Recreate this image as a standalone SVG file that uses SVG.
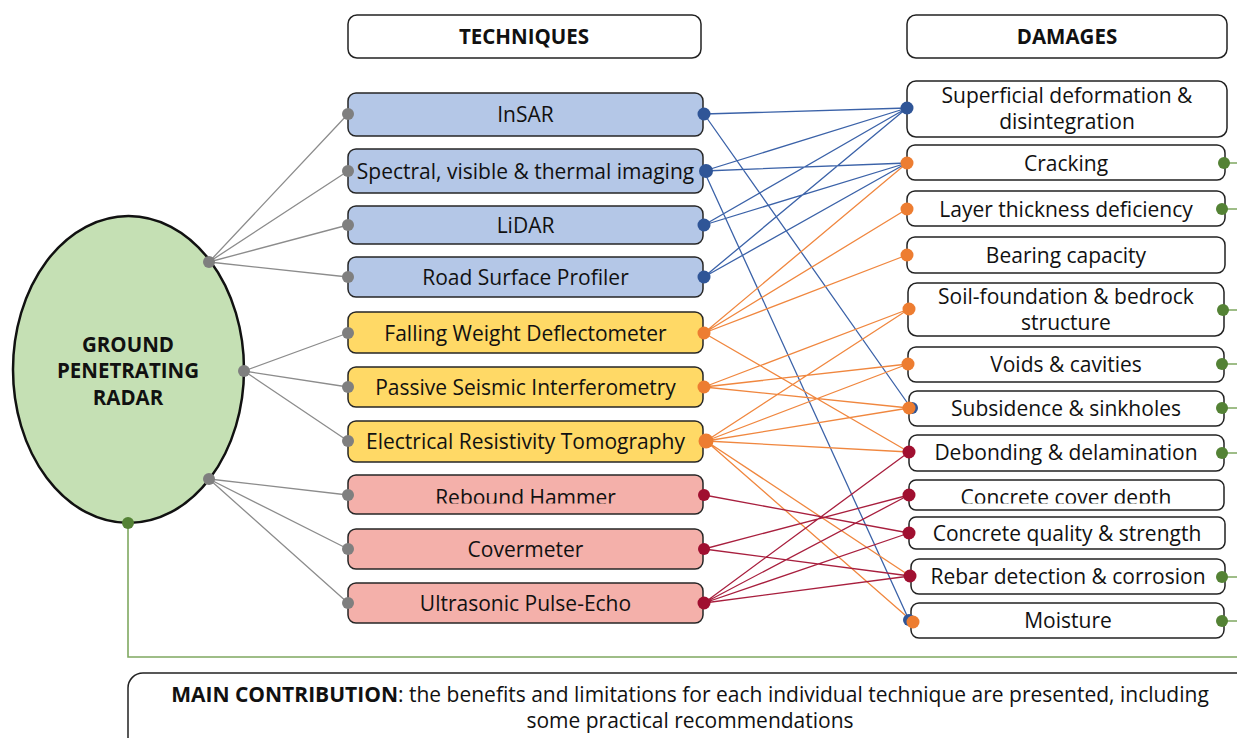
<svg xmlns="http://www.w3.org/2000/svg" width="1237" height="738" viewBox="0 0 1237 738">
  <style>
    text { font-family: "Open Sans", "Noto Sans", "Liberation Sans", sans-serif; fill: #111; }
    .hdr { font-size: 20.5px; font-weight: bold; text-anchor: middle; }
    .lbl { font-size: 21px; text-anchor: middle; }
    .gpr { font-size: 20.5px; font-weight: bold; text-anchor: middle; }
    .box { fill: #fff; stroke: #222; stroke-width: 1.5; }
    .tb { fill: #b4c7e7; stroke: #262626; stroke-width: 1.5; }
    .ty { fill: #ffd966; stroke: #262626; stroke-width: 1.5; }
    .tr { fill: #f4b0aa; stroke: #262626; stroke-width: 1.5; }
    .lg { stroke: #8c8c8c; stroke-width: 1.3; fill: none; }
    .lb { stroke: #3b62a8; stroke-width: 1.3; fill: none; }
    .lo { stroke: #f0873f; stroke-width: 1.3; fill: none; }
    .lr { stroke: #a81f3e; stroke-width: 1.3; fill: none; }
    .lgr { stroke: #7fa860; stroke-width: 1.6; fill: none; }
    .dg { fill: #7f7f7f; }
    .db { fill: #2f5597; }
    .do { fill: #ed7d31; }
    .dr { fill: #a00f30; }
    .dgr { fill: #548235; }
  </style>
  <defs>
    <clipPath id="clipRebound"><rect x="348" y="475" width="355" height="28.5"/></clipPath>
    <clipPath id="clipCover"><rect x="909" y="480" width="315" height="23.5"/></clipPath>
  </defs>

  <!-- connectors -->
  <g id="connectors">
    <!-- GPR to techniques -->
    <path class="lg" d="M209,262 L348,114 M209,262 L348,171 M209,262 L348,225 M209,262 L348,277"/>
    <path class="lg" d="M244,371 L348,333 M244,371 L348,387 M244,371 L348,441"/>
    <path class="lg" d="M209,479 L348,495 M209,479 L348,549 M209,479 L348,603"/>
    <!-- remote sensing techniques -->
    <path class="lb" d="M704,114 L907,108 M704,114 L911,408
                        M704,171 L907,108 M704,171 L907,163 M704,171 L909,620
                        M704,225 L907,108 M704,225 L907,163
                        M704,277 L907,108 M704,277 L907,163"/>
    <!-- geophysical techniques -->
    <path class="lo" d="M704,333 L907,163 M704,333 L907,209 M704,333 L907,255 M704,333 L909,452
                        M704,387 L909,309 M704,387 L908,364 M704,387 L909,408
                        M706,441 L909,309 M706,441 L908,364 M706,441 L909,408 M706,441 L909,452 M706,441 L910,576 M706,441 L913,622"/>
    <!-- concrete testing techniques -->
    <path class="lr" d="M704,495 L909,533
                        M704,549 L909,495 M704,549 L910,576
                        M704,603 L909,452 M704,603 L909,495 M704,603 L909,533 M704,603 L910,576"/>
    <!-- GPR to damages -->
    <path class="lgr" d="M128,523 V657 H1237"/>
    <path class="lgr" d="M1224,163 H1237 M1222,209 H1237 M1222,310 H1237 M1222,364 H1237 M1222,408 H1237 M1222,453 H1237 M1222,577 H1237 M1222,621 H1237"/>
  </g>

  <!-- central method -->
  <g id="gpr">
    <ellipse cx="128.5" cy="369.5" rx="115.5" ry="153.5" fill="#c5e0b4" stroke="#111" stroke-width="2.5"/>
    <text class="gpr" x="128" y="352">GROUND</text>
    <text class="gpr" x="128" y="378">PENETRATING</text>
    <text class="gpr" x="128" y="405">RADAR</text>
    <circle class="dg" cx="209" cy="262" r="6"/>
    <circle class="dg" cx="244" cy="371" r="6"/>
    <circle class="dg" cx="209" cy="479" r="6"/>
    <circle class="dgr" cx="128" cy="523" r="6"/>
  </g>

  <!-- column headers -->
  <g id="hdr-techniques">
    <rect class="box" x="348" y="15" width="353" height="43" rx="9"/>
    <text class="hdr" x="524" y="44">TECHNIQUES</text>
  </g>
  <g id="hdr-damages">
    <rect class="box" x="907" y="15" width="320" height="43" rx="9"/>
    <text class="hdr" x="1067" y="44">DAMAGES</text>
  </g>

  <!-- techniques -->
  <g id="t-insar">
    <rect class="tb" x="348" y="93" width="355" height="43" rx="8"/>
    <text class="lbl" x="525.5" y="122">InSAR</text>
    <circle class="dg" cx="348" cy="114" r="6"/><circle class="db" cx="704" cy="114" r="6.5"/>
  </g>
  <g id="t-spectral">
    <rect class="tb" x="348" y="149" width="355" height="44" rx="8"/>
    <text class="lbl" x="525.5" y="179">Spectral, visible &amp; thermal imaging</text>
    <circle class="dg" cx="348" cy="171" r="6"/><circle class="db" cx="706" cy="171" r="7"/>
  </g>
  <g id="t-lidar">
    <rect class="tb" x="348" y="206" width="355" height="38" rx="8"/>
    <text class="lbl" x="525.5" y="233">LiDAR</text>
    <circle class="dg" cx="348" cy="225" r="6"/><circle class="db" cx="704" cy="225" r="6.5"/>
  </g>
  <g id="t-profiler">
    <rect class="tb" x="348" y="257" width="355" height="40" rx="8"/>
    <text class="lbl" x="525.5" y="285">Road Surface Profiler</text>
    <circle class="dg" cx="348" cy="277" r="6"/><circle class="db" cx="704" cy="277" r="6.5"/>
  </g>
  <g id="t-fwd">
    <rect class="ty" x="348" y="312" width="355" height="41" rx="8"/>
    <text class="lbl" x="525.5" y="341">Falling Weight Deflectometer</text>
    <circle class="dg" cx="348" cy="333" r="6"/><circle class="do" cx="704" cy="333" r="6.5"/>
  </g>
  <g id="t-psi">
    <rect class="ty" x="348" y="367" width="355" height="40" rx="8"/>
    <text class="lbl" x="525.5" y="395">Passive Seismic Interferometry</text>
    <circle class="dg" cx="348" cy="387" r="6"/><circle class="do" cx="704" cy="387" r="6.5"/>
  </g>
  <g id="t-ert">
    <rect class="ty" x="348" y="421" width="355" height="41" rx="8"/>
    <text class="lbl" x="525.5" y="449">Electrical Resistivity Tomography</text>
    <circle class="dg" cx="348" cy="441" r="6"/><circle class="do" cx="706" cy="441" r="7.5"/>
  </g>
  <g id="t-rebound">
    <rect class="tr" x="348" y="475" width="355" height="39" rx="8"/>
    <text class="lbl" x="525.5" y="504.5" clip-path="url(#clipRebound)">Rebound Hammer</text>
    <circle class="dg" cx="348" cy="495" r="6"/><circle class="dr" cx="704" cy="495" r="6"/>
  </g>
  <g id="t-covermeter">
    <rect class="tr" x="348" y="529" width="355" height="40" rx="8"/>
    <text class="lbl" x="525.5" y="557">Covermeter</text>
    <circle class="dg" cx="348" cy="549" r="6"/><circle class="dr" cx="704" cy="549" r="6"/>
  </g>
  <g id="t-upe">
    <rect class="tr" x="348" y="583" width="355" height="40" rx="8"/>
    <text class="lbl" x="525.5" y="611">Ultrasonic Pulse-Echo</text>
    <circle class="dg" cx="348" cy="603" r="6"/><circle class="dr" cx="704" cy="603" r="6.5"/>
  </g>

  <!-- damages -->
  <g id="d-superficial">
    <rect class="box" x="907" y="81" width="320" height="56" rx="9"/>
    <text class="lbl" x="1067" y="103">Superficial deformation &amp;</text>
    <text class="lbl" x="1067" y="129">disintegration</text>
    <circle class="db" cx="907" cy="108" r="6.5"/>
  </g>
  <g id="d-cracking">
    <rect class="box" x="907" y="145" width="318" height="35" rx="8"/>
    <text class="lbl" x="1066" y="171">Cracking</text>
    <circle class="do" cx="907" cy="163" r="6.5"/><circle class="dgr" cx="1224" cy="163" r="6"/>
  </g>
  <g id="d-layer">
    <rect class="box" x="907" y="191" width="318" height="35" rx="8"/>
    <text class="lbl" x="1066" y="217">Layer thickness deficiency</text>
    <circle class="do" cx="907" cy="209" r="6.5"/><circle class="dgr" cx="1222" cy="209" r="6"/>
  </g>
  <g id="d-bearing">
    <rect class="box" x="907" y="237" width="318" height="36" rx="8"/>
    <text class="lbl" x="1066" y="263">Bearing capacity</text>
    <circle class="do" cx="907" cy="255" r="6.5"/>
  </g>
  <g id="d-soil">
    <rect class="box" x="908" y="283" width="316" height="53" rx="9"/>
    <text class="lbl" x="1066" y="304">Soil-foundation &amp; bedrock</text>
    <text class="lbl" x="1066" y="330">structure</text>
    <circle class="do" cx="909" cy="309" r="6.5"/><circle class="dgr" cx="1223" cy="310" r="6"/>
  </g>
  <g id="d-voids">
    <rect class="box" x="908" y="347" width="316" height="35" rx="8"/>
    <text class="lbl" x="1066" y="372">Voids &amp; cavities</text>
    <circle class="do" cx="908" cy="364" r="6.5"/><circle class="dgr" cx="1222" cy="364" r="6"/>
  </g>
  <g id="d-subsidence">
    <rect class="box" x="909" y="391" width="315" height="35" rx="8"/>
    <text class="lbl" x="1066" y="416">Subsidence &amp; sinkholes</text>
    <circle class="db" cx="912" cy="408" r="6"/><circle class="do" cx="909" cy="408" r="6.5"/><circle class="dgr" cx="1222" cy="408" r="6"/>
  </g>
  <g id="d-debonding">
    <rect class="box" x="909" y="435" width="315" height="36" rx="8"/>
    <text class="lbl" x="1066" y="460">Debonding &amp; delamination</text>
    <circle class="dr" cx="909" cy="452" r="6.5"/><circle class="dgr" cx="1222" cy="453" r="6"/>
  </g>
  <g id="d-cover">
    <rect class="box" x="909" y="480" width="315" height="30" rx="7"/>
    <text class="lbl" x="1066" y="504.5" clip-path="url(#clipCover)">Concrete cover depth</text>
    <circle class="dr" cx="909" cy="495" r="6.5"/>
  </g>
  <g id="d-quality">
    <rect class="box" x="909" y="517" width="316" height="32" rx="7"/>
    <text class="lbl" x="1067" y="541">Concrete quality &amp; strength</text>
    <circle class="dr" cx="909" cy="533" r="6.5"/>
  </g>
  <g id="d-rebar">
    <rect class="box" x="911" y="559" width="314" height="35" rx="8"/>
    <text class="lbl" x="1068" y="584">Rebar detection &amp; corrosion</text>
    <circle class="dr" cx="910" cy="576" r="6.5"/><circle class="dgr" cx="1222" cy="577" r="6"/>
  </g>
  <g id="d-moisture">
    <rect class="box" x="911" y="603" width="313" height="35" rx="8"/>
    <text class="lbl" x="1068" y="628">Moisture</text>
    <circle class="db" cx="909" cy="620" r="6"/><circle class="do" cx="913" cy="622" r="6.5"/><circle class="dgr" cx="1222" cy="621" r="6"/>
  </g>

  <!-- summary -->
  <g id="main-contribution">
    <rect class="box" x="128" y="673" width="1130" height="90" rx="15"/>
    <text x="690" y="702" style="font-size:21px;text-anchor:middle"><tspan font-weight="bold">MAIN CONTRIBUTION</tspan>: the benefits and limitations for each individual technique are presented, including</text>
    <text x="690" y="728" style="font-size:21px;text-anchor:middle">some practical recommendations</text>
  </g>
</svg>
